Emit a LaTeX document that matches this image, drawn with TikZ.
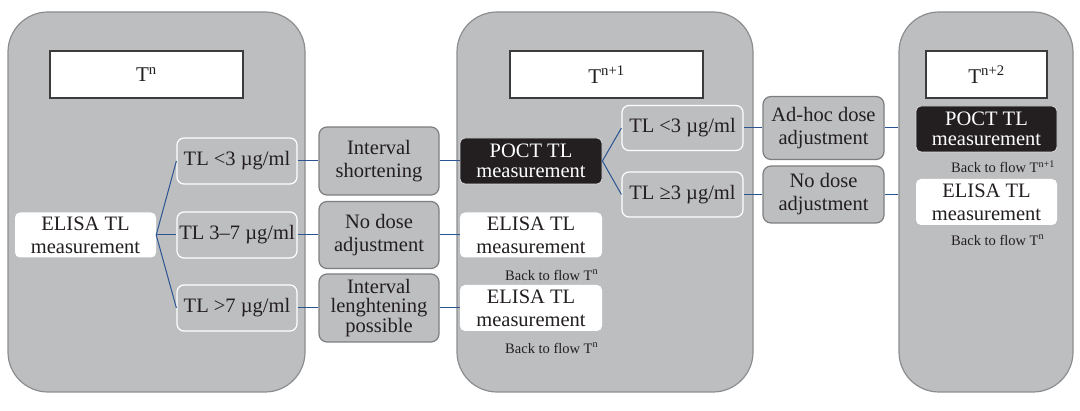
\documentclass[tikz,border=0pt]{standalone}
\usepackage{fontspec}
\setmainfont{Liberation Serif}
\definecolor{panelfill}{HTML}{BDBEC0}
\definecolor{panelline}{HTML}{8C8D8F}
\definecolor{boxline}{HTML}{7D7E80}
\definecolor{ink}{HTML}{231F20}
\definecolor{titleline}{HTML}{3C3C3C}
\definecolor{link}{HTML}{2A5592}
\tikzset{
  panel/.style={draw=panelline, fill=panelfill, line width=1.2pt, rounded corners=40pt, inner sep=0pt},
  titlebox/.style={draw=titleline, fill=white, line width=1.8pt, inner sep=0pt, font=\fontsize{21}{24}\selectfont, text=ink},
  whitebox/.style={fill=white, rounded corners=5pt, inner sep=0pt, align=center, font=\fontsize{20.5}{23}\selectfont, text=ink},
  blackbox/.style={fill=ink, draw=white!85!black, line width=0.8pt, rounded corners=5pt, inner sep=0pt, align=center, font=\fontsize{20.5}{19.5}\selectfont, text=white},
  tlbox/.style={fill=panelfill, draw=white, line width=1.2pt, rounded corners=7pt, inner sep=0pt, align=center, font=\fontsize{20.5}{23}\selectfont, text=ink},
  actbox/.style={fill=panelfill, draw=boxline, line width=1.2pt, rounded corners=8pt, inner sep=0pt, align=center, font=\fontsize{20.5}{23}\selectfont, text=ink},
  actbox3/.style={actbox, font=\fontsize{20.5}{19.5}\selectfont},
  backnote/.style={anchor=west, inner sep=0pt, font=\fontsize{14.5}{16}\selectfont, text=ink},
  link/.style={draw=link, line width=1pt}
}
\begin{document}
\begin{tikzpicture}[x=1pt,y=-1pt]
\useasboundingbox (0,0) rectangle (1080,411);
% panels
\node[panel, minimum width=297pt, minimum height=380pt] (p1) at (156.5,202) {};
\node[panel, minimum width=296pt, minimum height=380pt] (p2) at (605,202) {};
\node[panel, minimum width=174pt, minimum height=380pt] (p3) at (986,202) {};
% titles
\node[titlebox, minimum width=193pt, minimum height=47pt] (t1) at (146.5,74.5) {T\textsuperscript{n}};
\node[titlebox, minimum width=193pt, minimum height=47pt] (t2) at (606.5,74.5) {T\textsuperscript{n+1}};
\node[titlebox, minimum width=121pt, minimum height=47pt] (t3) at (986.5,74.5) {T\textsuperscript{n+2}};
% panel 1
\node[whitebox, minimum width=141pt, minimum height=45pt] (e1) at (85.5,235) {ELISA TL\\measurement};
\node[tlbox, minimum width=120pt, minimum height=46pt] (a1) at (237,161) {TL <3 µg/ml};
\node[tlbox, minimum width=120pt, minimum height=46pt] (a2) at (237,235) {TL 3–7 µg/ml};
\node[tlbox, minimum width=120pt, minimum height=46pt] (a3) at (237,308) {TL >7 µg/ml};
\node[actbox, minimum width=120pt, minimum height=68pt] (b1) at (379,161) {Interval\\shortening};
\node[actbox, minimum width=120pt, minimum height=67pt] (b2) at (379,235) {No dose\\adjustment};
\node[actbox3, minimum width=120pt, minimum height=68pt] (b3) at (379,308) {Interval\\lenghtening\\possible};
% panel 2
\node[blackbox, minimum width=142pt, minimum height=46pt] (c1) at (531,161) {POCT TL\\measurement};
\node[whitebox, minimum width=142pt, minimum height=45pt] (c2) at (531,235) {ELISA TL\\measurement};
\node[backnote] (n1) at (505,275) {Back to flow T\textsuperscript{n}};
\node[whitebox, minimum width=142pt, minimum height=46pt] (c3) at (531,308) {ELISA TL\\measurement};
\node[backnote] (n2) at (505,348) {Back to flow T\textsuperscript{n}};
\node[tlbox, minimum width=121pt, minimum height=45pt] (d1) at (682.5,128) {TL <3 µg/ml};
\node[tlbox, minimum width=121pt, minimum height=45pt] (d2) at (682.5,194.5) {TL ≥3 µg/ml};
\node[actbox, minimum width=121pt, minimum height=63pt] (f1) at (823.5,128) {Ad-hoc dose\\adjustment};
\node[actbox, minimum width=121pt, minimum height=57pt] (f2) at (823.5,194.5) {No dose\\adjustment};
% panel 3
\node[blackbox, minimum width=141pt, minimum height=46pt] (g1) at (986.5,129) {POCT TL\\measurement};
\node[backnote] (n3) at (951,167) {Back to flow T\textsuperscript{n+1}};
\node[whitebox, minimum width=141pt, minimum height=46pt] (g2) at (986.5,202) {ELISA TL\\measurement};
\node[backnote] (n4) at (951,240) {Back to flow T\textsuperscript{n}};
% connectors
\draw[link] (e1.east) -- (a1.west);
\draw[link] (e1.east) -- (a2.west);
\draw[link] (e1.east) -- (a3.west);
\draw[link] (a1.east) -- (b1.west);
\draw[link] (a2.east) -- (b2.west);
\draw[link] (a3.east) -- (b3.west);
\draw[link] (b1.east) -- (c1.west);
\draw[link] (b2.east) -- (c2.west);
\draw[link] (b3.east) -- (c3.west);
\draw[link] (c1.east) -- (d1.west);
\draw[link] (c1.east) -- (d2.west);
\draw[link] (d1.east) -- (f1.west);
\draw[link] (d2.east) -- (f2.west);
\draw[link] (f1.east) -- (f1.east -| p3.west);
\draw[link] (f2.east) -- (f2.east -| p3.west);
\end{tikzpicture}
\end{document}
